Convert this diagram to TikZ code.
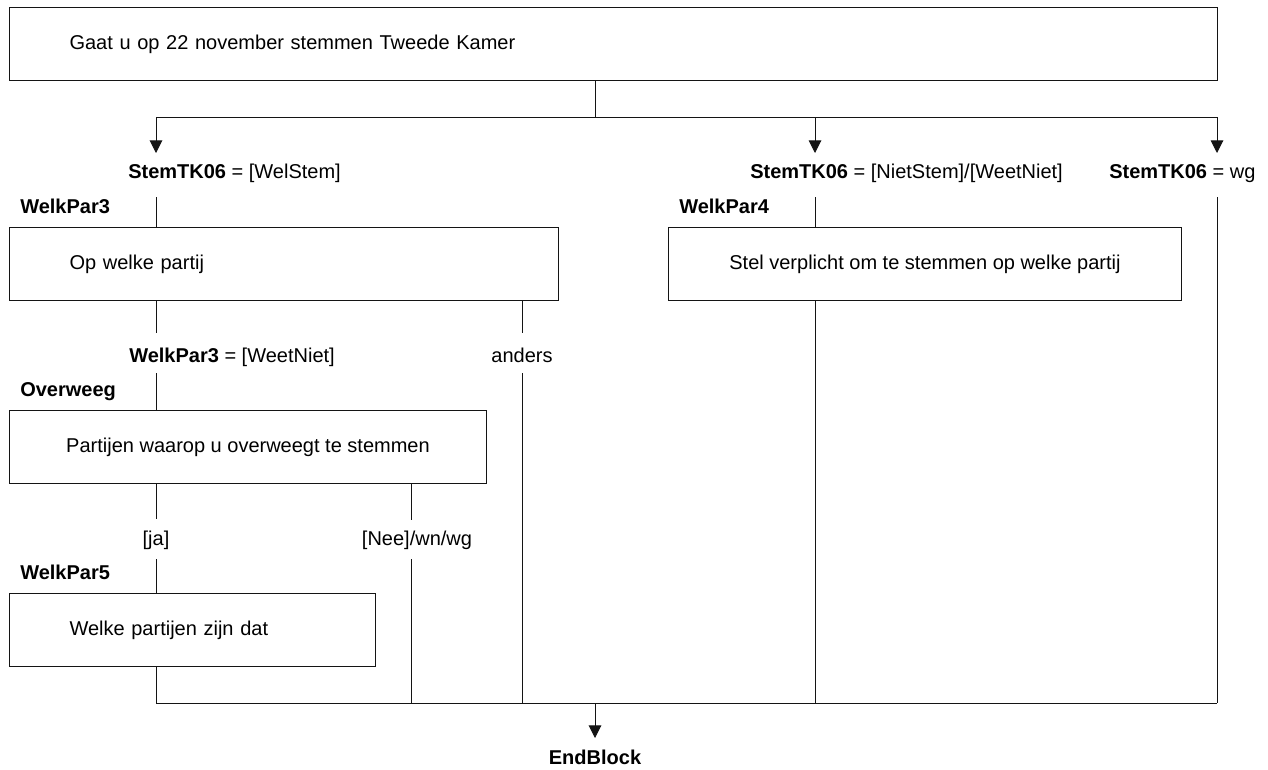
\documentclass[tikz,border=0pt]{standalone}
\usepackage{fontspec}
\setmainfont{Liberation Sans}
\usepackage{tikz}
\usetikzlibrary{arrows.meta,positioning}
\definecolor{flowline}{RGB}{20,20,20}
\newcommand{\qsize}{\fontsize{15}{18}\selectfont}
\tikzset{
  basebox/.style={rectangle,draw=flowline,line width=0.75pt,anchor=north west,minimum height=54.75pt,inner ysep=0pt,font=\qsize},
  leftbox/.style={basebox,inner xsep=45pt,align=left},
  midbox/.style={basebox,inner xsep=0pt,align=center},
  varlabel/.style={inner sep=0pt,font=\qsize\bfseries},
  condlabel/.style={inner sep=0pt,font=\qsize},
  flow/.style={draw=flowline,line width=0.75pt},
  arr/.style={flow,-{Triangle[length=9.5pt,width=9.5pt]}}
}

\begin{document}
\begin{tikzpicture}[x=0.75pt,y=-0.75pt]
  \useasboundingbox (0,0) rectangle (1268,769);

  %% Question boxes
  \node[leftbox,text width=816pt] (gaat) at (9,7) {Gaat u op 22 november stemmen Tweede Kamer};
  \node[leftbox,text width=321.75pt] (welkpar3) at (9,227) {Op welke partij};
  \node[midbox,minimum width=384.75pt] (welkpar4) at (668,227) {Stel verplicht om te stemmen op welke partij};
  \node[midbox,minimum width=357.75pt] (overweeg) at (9,410) {Partijen waarop u overweegt te stemmen};
  \node[leftbox,text width=184.5pt] (welkpar5) at (9,593) {Welke partijen zijn dat};

  %% Variable names
  \node[varlabel,above right=10.5pt and 8.25pt of welkpar3.north west,anchor=base west] (lblwp3) {WelkPar3};
  \node[varlabel,above right=10.5pt and 8.25pt of welkpar4.north west,anchor=base west] (lblwp4) {WelkPar4};
  \node[varlabel,above right=10.5pt and 8.25pt of overweeg.north west,anchor=base west] (lblov) {Overweeg};
  \node[varlabel,above right=10.5pt and 8.25pt of welkpar5.north west,anchor=base west] (lblwp5) {WelkPar5};

  %% Conditions
  \node[condlabel,anchor=base west] (stemwel) at (128,178) {\textbf{StemTK06} = [WelStem]};
  \node[condlabel,anchor=base west] (stemniet) at (750,178) {\textbf{StemTK06} = [NietStem]/[WeetNiet]};
  \node[condlabel,anchor=base west] (stemwg) at (1109,178) {\textbf{StemTK06} = wg};
  \node[condlabel,anchor=base west] (wp3weet) at (129,362) {\textbf{WelkPar3} = [WeetNiet]};
  \node[condlabel,anchor=base] (anders) at (522,362) {anders};
  \node[condlabel,anchor=base] (ja) at (156,545) {[ja]};
  \node[condlabel,anchor=base] (neewn) at (417,545) {[Nee]/wn/wg};

  %% Free ends
  \coordinate (split) at (595,117);
  \coordinate (join) at (595,703);
  \coordinate (tipwel) at (156,153);
  \coordinate (tipniet) at (815,153);
  \coordinate (tipwg) at (1217,153);
  \coordinate (w3in) at (156,197);
  \coordinate (w4in) at (815,197);
  \coordinate (wgin) at (1217,197);
  \coordinate (w3weet) at (156,333);
  \coordinate (w3anders) at (522,333);
  \coordinate (ovin) at (156,373);
  \coordinate (andersdown) at (522,373);
  \coordinate (ovja) at (156,519);
  \coordinate (ovnee) at (411,520);
  \coordinate (w5in) at (156,559);
  \coordinate (needown) at (411,559);
  \coordinate (endtip) at (595,738);

  \node[varlabel,below=8.5pt of endtip] (endblock) {EndBlock};

  %% Arrows
  \draw[flow] (gaat.south -| split) -- (split);
  \draw[arr] (split) -| (tipwel);
  \draw[arr] (split) -| (tipwg);
  \draw[arr] (split -| tipniet) -- (tipniet);
  \draw[flow] (w3in) -- (w3in |- welkpar3.north);
  \draw[flow] (w4in) -- (w4in |- welkpar4.north);
  \draw[flow] (wgin) -- (wgin |- join);
  \draw[flow] (w3weet |- welkpar3.south) -- (w3weet);
  \draw[flow] (w3anders |- welkpar3.south) -- (w3anders);
  \draw[flow] (ovin) -- (ovin |- overweeg.north);
  \draw[flow] (andersdown) -- (andersdown |- join);
  \draw[flow] (ovja |- overweeg.south) -- (ovja);
  \draw[flow] (ovnee |- overweeg.south) -- (ovnee);
  \draw[flow] (w5in) -- (w5in |- welkpar5.north);
  \draw[flow] (needown) -- (needown |- join);
  \draw[flow] (w4in |- welkpar4.south) -- (w4in |- join);
  \draw[flow] (w5in |- welkpar5.south) -- (w5in |- join) -- (wgin |- join);
  \draw[arr] (join) -- (endtip);
\end{tikzpicture}
\end{document}
